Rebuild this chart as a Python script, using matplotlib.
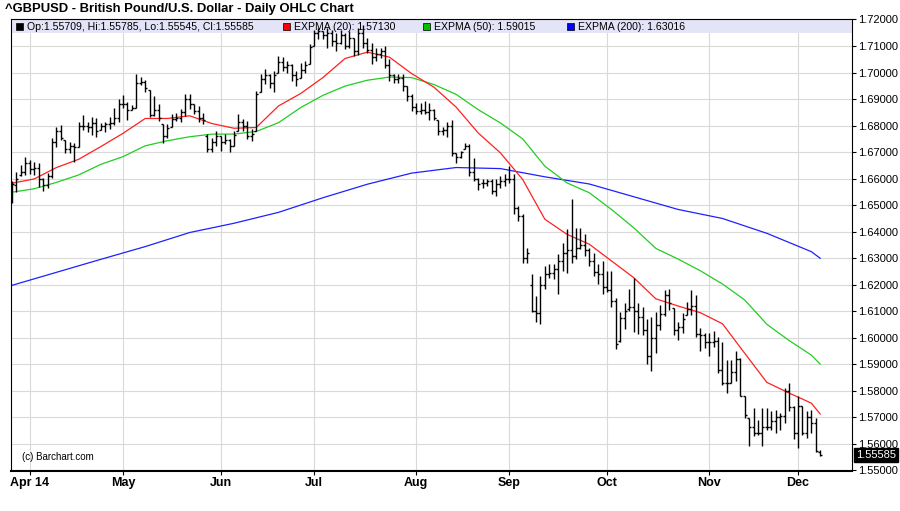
#!/usr/bin/env python3
"""Recreate the Barchart daily OHLC chart of GBPUSD with EXPMA overlays."""

import matplotlib

matplotlib.use("Agg")
import matplotlib.pyplot as plt
import pandas as pd
from matplotlib import font_manager
from matplotlib.collections import LineCollection
from matplotlib.patches import Rectangle
from matplotlib.transforms import blended_transform_factory

TITLE = "^GBPUSD - British Pound/U.S. Dollar - Daily OHLC Chart"

# trading days on the chart (Good Friday is missing in the source)
first_day = "2014-03-26"
last_day = "2014-12-08"
skipped_days = ["2014-04-18"]

opens = [
    1.6520, 1.6575, 1.6615, 1.6625, 1.6660, 1.6635, 1.6640, 1.6600, 1.6575, 1.6610,
    1.6740, 1.6780, 1.6746, 1.6710, 1.6725, 1.6721, 1.6800, 1.6800, 1.6795, 1.6810,
    1.6785, 1.6800, 1.6805, 1.6810, 1.6830, 1.6880, 1.6880, 1.6860, 1.6865, 1.6960,
    1.6965, 1.6934, 1.6840, 1.6860, 1.6806, 1.6760, 1.6793, 1.6825, 1.6830, 1.6850,
    1.6900, 1.6880, 1.6855, 1.6830, 1.6760, 1.6710, 1.6740, 1.6760, 1.6740, 1.6745,
    1.6725, 1.6780, 1.6815, 1.6800, 1.6760, 1.6780, 1.6925, 1.6975, 1.6990, 1.6960,
    1.7000, 1.7040, 1.7020, 1.7030, 1.6990, 1.6981, 1.7010, 1.7031, 1.7100, 1.7150,
    1.7155, 1.7140, 1.7150, 1.7120, 1.7110, 1.7140, 1.7100, 1.7130, 1.7080, 1.7150,
    1.7110, 1.7085, 1.7060, 1.7070, 1.7080, 1.7030, 1.6990, 1.6975, 1.6980, 1.6949,
    1.6910, 1.6870, 1.6855, 1.6860, 1.6850, 1.6860, 1.6820, 1.6780, 1.6785, 1.6800,
    1.6695, 1.6680, 1.6710, 1.6725, 1.6625, 1.6600, 1.6585, 1.6585, 1.6590, 1.6555,
    1.6580, 1.6590, 1.6600, 1.6600, 1.6490, 1.6460, 1.6300, 1.6200, 1.6100, 1.6095,
    1.6200, 1.6240, 1.6245, 1.6260, 1.6290, 1.6320, 1.6330, 1.6310, 1.6340, 1.6350,
    1.6330, 1.6290, 1.6250, 1.6240, 1.6190, 1.6180, 1.6140, 1.5990, 1.6075, 1.6110,
    1.6115, 1.6100, 1.6080, 1.6030, 1.5930, 1.6000, 1.6050, 1.6090, 1.6160, 1.6112,
    1.6030, 1.6040, 1.6086, 1.6110, 1.6120, 1.6015, 1.6010, 1.5985, 1.5985, 1.5990,
    1.5880, 1.5830, 1.5830, 1.5870, 1.5920, 1.5779, 1.5698, 1.5665, 1.5640, 1.5640,
    1.5665, 1.5665, 1.5685, 1.5700, 1.5705, 1.5800, 1.5740, 1.5640, 1.5742, 1.5640,
    1.5700, 1.5680, 1.55709,
]
highs = [
    1.6590, 1.6627, 1.6650, 1.6680, 1.6670, 1.6664, 1.6658, 1.6602, 1.6620, 1.6752,
    1.6796, 1.6802, 1.6746, 1.6739, 1.6733, 1.6815, 1.6840, 1.6815, 1.6833, 1.6827,
    1.6808, 1.6815, 1.6833, 1.6865, 1.6902, 1.6915, 1.6890, 1.6877, 1.6996, 1.6984,
    1.6971, 1.6934, 1.6912, 1.6881, 1.6806, 1.6806, 1.6843, 1.6849, 1.6862, 1.6918,
    1.6918, 1.6881, 1.6874, 1.6849, 1.6768, 1.6755, 1.6780, 1.6762, 1.6768, 1.6749,
    1.6780, 1.6843, 1.6824, 1.6818, 1.6787, 1.6931, 1.6993, 1.7012, 1.6993, 1.7006,
    1.7062, 1.7058, 1.7044, 1.7031, 1.7006, 1.7037, 1.7043, 1.7106, 1.7162, 1.7169,
    1.7156, 1.7169, 1.7162, 1.7150, 1.7162, 1.7150, 1.7156, 1.7131, 1.7169, 1.7180,
    1.7131, 1.7112, 1.7093, 1.7093, 1.7100, 1.7050, 1.6993, 1.6993, 1.6993, 1.6949,
    1.6918, 1.6887, 1.6887, 1.6893, 1.6884, 1.6864, 1.6820, 1.6794, 1.6813, 1.6823,
    1.6697, 1.6704, 1.6735, 1.6729, 1.6678, 1.6603, 1.6597, 1.6597, 1.6597, 1.6597,
    1.6610, 1.6616, 1.6647, 1.6616, 1.6497, 1.6465, 1.6340, 1.6240, 1.6158, 1.6234,
    1.6271, 1.6277, 1.6277, 1.6315, 1.6359, 1.6409, 1.6524, 1.6415, 1.6415, 1.6390,
    1.6340, 1.6321, 1.6277, 1.6290, 1.6252, 1.6252, 1.6152, 1.6096, 1.6133, 1.6183,
    1.6227, 1.6133, 1.6115, 1.6070, 1.6080, 1.6099, 1.6124, 1.6180, 1.6183, 1.6112,
    1.6061, 1.6093, 1.6137, 1.6180, 1.6162, 1.6036, 1.6018, 1.6018, 1.6024, 1.6005,
    1.5986, 1.5917, 1.5917, 1.5949, 1.5924, 1.5779, 1.5698, 1.5736, 1.5692, 1.5736,
    1.5736, 1.5723, 1.5729, 1.5717, 1.5811, 1.5830, 1.5742, 1.5779, 1.5742, 1.5723,
    1.5729, 1.5698, 1.55785,
]
lows = [
    1.6508, 1.6551, 1.6610, 1.6612, 1.6618, 1.6614, 1.6570, 1.6552, 1.6564, 1.6602,
    1.6721, 1.6746, 1.6695, 1.6695, 1.6664, 1.6721, 1.6783, 1.6777, 1.6764, 1.6758,
    1.6783, 1.6777, 1.6789, 1.6802, 1.6815, 1.6865, 1.6821, 1.6858, 1.6865, 1.6952,
    1.6927, 1.6833, 1.6837, 1.6818, 1.6735, 1.6755, 1.6793, 1.6818, 1.6812, 1.6837,
    1.6862, 1.6843, 1.6812, 1.6806, 1.6699, 1.6699, 1.6724, 1.6705, 1.6730, 1.6699,
    1.6724, 1.6780, 1.6780, 1.6749, 1.6743, 1.6780, 1.6925, 1.6956, 1.6943, 1.6925,
    1.7000, 1.7006, 1.7000, 1.6968, 1.6949, 1.6981, 1.7000, 1.7031, 1.7100, 1.7125,
    1.7125, 1.7093, 1.7100, 1.7081, 1.7106, 1.7087, 1.7093, 1.7062, 1.7068, 1.7093,
    1.7075, 1.7031, 1.7043, 1.7056, 1.7018, 1.6968, 1.6962, 1.6962, 1.6931, 1.6893,
    1.6855, 1.6843, 1.6843, 1.6843, 1.6820, 1.6820, 1.6763, 1.6763, 1.6757, 1.6685,
    1.6660, 1.6678, 1.6710, 1.6610, 1.6591, 1.6559, 1.6566, 1.6572, 1.6541, 1.6534,
    1.6566, 1.6572, 1.6584, 1.6465, 1.6440, 1.6284, 1.6284, 1.6096, 1.6058, 1.6052,
    1.6183, 1.6227, 1.6221, 1.6165, 1.6252, 1.6246, 1.6284, 1.6296, 1.6334, 1.6309,
    1.6271, 1.6234, 1.6202, 1.6165, 1.6171, 1.6115, 1.5958, 1.5985, 1.6033, 1.6102,
    1.6021, 1.6014, 1.6010, 1.5900, 1.5875, 1.5943, 1.6030, 1.6083, 1.6105, 1.6011,
    1.5992, 1.6018, 1.6086, 1.6086, 1.6005, 1.5949, 1.5961, 1.5930, 1.5967, 1.5867,
    1.5823, 1.5792, 1.5828, 1.5836, 1.5779, 1.5698, 1.5591, 1.5629, 1.5635, 1.5591,
    1.5654, 1.5654, 1.5642, 1.5654, 1.5679, 1.5723, 1.5617, 1.5585, 1.5635, 1.5623,
    1.5642, 1.5570, 1.55545,
]
closes = [
    1.6580, 1.6600, 1.6625, 1.6660, 1.6635, 1.6640, 1.6600, 1.6575, 1.6610, 1.6740,
    1.6780, 1.6755, 1.6710, 1.6725, 1.6720, 1.6800, 1.6800, 1.6795, 1.6810, 1.6780,
    1.6800, 1.6805, 1.6810, 1.6830, 1.6880, 1.6880, 1.6860, 1.6865, 1.6960, 1.6965,
    1.6940, 1.6840, 1.6860, 1.6830, 1.6760, 1.6790, 1.6825, 1.6830, 1.6850, 1.6900,
    1.6880, 1.6855, 1.6830, 1.6820, 1.6710, 1.6740, 1.6760, 1.6740, 1.6745, 1.6725,
    1.6765, 1.6815, 1.6800, 1.6760, 1.6770, 1.6920, 1.6975, 1.6990, 1.6960, 1.6990,
    1.7040, 1.7020, 1.7030, 1.6990, 1.6975, 1.7010, 1.7030, 1.7095, 1.7150, 1.7155,
    1.7140, 1.7150, 1.7120, 1.7110, 1.7140, 1.7100, 1.7130, 1.7080, 1.7150, 1.7110,
    1.7085, 1.7060, 1.7070, 1.7080, 1.7030, 1.6990, 1.6975, 1.6980, 1.6950, 1.6910,
    1.6870, 1.6855, 1.6860, 1.6850, 1.6860, 1.6830, 1.6780, 1.6785, 1.6800, 1.6695,
    1.6680, 1.6700, 1.6725, 1.6625, 1.6600, 1.6580, 1.6585, 1.6590, 1.6555, 1.6580,
    1.6590, 1.6600, 1.6600, 1.6490, 1.6460, 1.6300, 1.6320, 1.6100, 1.6095, 1.6200,
    1.6240, 1.6245, 1.6260, 1.6290, 1.6320, 1.6330, 1.6310, 1.6340, 1.6350, 1.6330,
    1.6290, 1.6250, 1.6240, 1.6190, 1.6180, 1.6140, 1.5975, 1.6075, 1.6100, 1.6115,
    1.6100, 1.6080, 1.6030, 1.5930, 1.6000, 1.6050, 1.6090, 1.6160, 1.6130, 1.6030,
    1.6040, 1.6070, 1.6110, 1.6120, 1.6015, 1.6010, 1.5985, 1.5985, 1.5990, 1.5880,
    1.5830, 1.5830, 1.5870, 1.5920, 1.5780, 1.5710, 1.5665, 1.5640, 1.5640, 1.5665,
    1.5665, 1.5685, 1.5700, 1.5705, 1.5800, 1.5740, 1.5640, 1.5745, 1.5640, 1.5700,
    1.5680, 1.5575, 1.55585,
]

# moving averages at every 5th bar
ema_idx = [
    0, 5, 10, 15, 20, 25, 30, 35, 40, 45, 50, 55, 60, 65, 70, 75, 80, 85, 90,
    95, 100, 105, 110, 115, 120, 125, 130, 135, 140, 145, 150, 155, 160, 165,
    170, 175, 180, 182,
]
ema20 = [
    1.6583, 1.6599, 1.6642, 1.6673, 1.6721, 1.6771, 1.6827, 1.6827, 1.6837,
    1.6808, 1.6790, 1.6793, 1.6874, 1.6921, 1.6981, 1.7053, 1.7077, 1.7058,
    1.6996, 1.6945, 1.6870, 1.6772, 1.6697, 1.6597, 1.6447, 1.6390, 1.6353,
    1.6290, 1.6227, 1.6147, 1.6120, 1.6095, 1.6053, 1.5942, 1.5832, 1.5792,
    1.5754, 1.5713,
]
ema50 = [
    1.6549, 1.6562, 1.6586, 1.6614, 1.6654, 1.6683, 1.6724, 1.6743, 1.6758,
    1.6768, 1.6768, 1.6778, 1.6811, 1.6868, 1.6914, 1.6949, 1.6971, 1.6983,
    1.6981, 1.6955, 1.6918, 1.6860, 1.6810, 1.6750, 1.6647, 1.6584, 1.6547,
    1.6484, 1.6415, 1.6337, 1.6297, 1.6253, 1.6203, 1.6143, 1.6051, 1.5990,
    1.5935, 1.5901,
]
ema200_idx = [0, 10, 20, 30, 40, 50, 60, 70, 80, 90, 100, 110, 120, 130, 140,
              150, 160, 170, 180, 182]
ema200 = [
    1.6198, 1.6247, 1.6296, 1.6344, 1.6397, 1.6432, 1.6473, 1.6528, 1.6579,
    1.6621, 1.6642, 1.6638, 1.6607, 1.6580, 1.6532, 1.6484, 1.6450, 1.6394,
    1.6325, 1.6300,
]

legend_labels = [
    "Op:1.55709, Hi:1.55785, Lo:1.55545, Cl:1.55585",
    "EXPMA (20): 1.57130",
    "EXPMA (50): 1.59015",
    "EXPMA (200): 1.63016",
]
legend_colors = ["#000000", "#ff0000", "#00c000", "#0000ff"]
legend_x = [16, 283, 423, 567]

W, H = 900, 511


def pick_font(*names):
    """Return the first installed family from names."""
    available = {f.name for f in font_manager.fontManager.ttflist}
    for name in names:
        if name in available:
            return name
    return "DejaVu Sans"


def fx(x):
    return x / W


def fy(y):
    return 1 - y / H


def trading_days():
    days = pd.bdate_range(first_day, last_day)
    return days[~days.isin(pd.to_datetime(skipped_days))]


def ohlc_segments():
    half = 0.45
    segs = []
    for i, (o, h, l, c) in enumerate(zip(opens, highs, lows, closes)):
        segs.append([(i, l), (i, h)])
        segs.append([(i - half, o), (i, o)])
        segs.append([(i, c), (i + half, c)])
    return segs


def main():
    sans = pick_font("Liberation Sans", "Arial")
    narrow = pick_font("Liberation Sans Narrow", "Liberation Sans")
    plt.rcParams["font.family"] = sans

    fig = plt.figure(figsize=(W / 100, H / 100), dpi=100)
    left, right, top, bottom = 10.7, 851.7, 19.5, 470.5
    ax = fig.add_axes([fx(left), fy(bottom), (right - left) / W, (bottom - top) / H])

    days = trading_days()
    ax.set_xlim(-0.3, 189.1)
    ax.set_ylim(1.55, 1.72)

    # grid
    ax.set_axisbelow(True)
    ax.grid(True, color="#d9d9d9", linewidth=0.8)

    # legend band along the top of the plot
    band_h = 13.5 / (bottom - top)
    ax.add_patch(Rectangle((0, 1 - band_h), 1, band_h, transform=ax.transAxes,
                           facecolor="#e4e4f8", edgecolor="none", zorder=1.5))
    for label, color, x in zip(legend_labels, legend_colors, legend_x):
        ax.add_patch(Rectangle((fx(x), fy(30)), 7 / W, 7 / H, transform=fig.transFigure,
                               facecolor=color, edgecolor="black", linewidth=0.5,
                               zorder=2, clip_on=False))
        ax.text(fx(x + 11), fy(26.5), label, transform=fig.transFigure, fontsize=7.6,
                va="center", ha="left", color="black", zorder=2)

    # moving averages
    ax.plot(ema200_idx, ema200, color="#2020ff", linewidth=0.9, zorder=2.5)
    ax.plot(ema_idx, ema50, color="#22cc22", linewidth=0.9, zorder=2.5)
    ax.plot(ema_idx, ema20, color="#ff2020", linewidth=0.9, zorder=2.5)

    # OHLC bars
    ax.add_collection(LineCollection(ohlc_segments(), colors="black",
                                     linewidths=1.0, zorder=3))

    # x axis: first trading day of each month; the partial starting month gets no tick
    month_first = pd.Series(range(len(days)), index=days).groupby(
        [days.year, days.month]).first()
    xticks = list(month_first.values)[1:]
    xlabels = []
    for n, pos in enumerate(xticks):
        d = days[pos]
        xlabels.append(d.strftime("%b %y") if n == 0 else d.strftime("%b"))
    ax.set_xticks(xticks)
    ax.set_xticklabels(xlabels, fontfamily=narrow, fontweight="bold", fontsize=9)
    ax.tick_params(axis="x", direction="out", length=3, pad=1.5, width=0.8)

    # y axis on the right
    yticks = [1.55 + 0.01 * k for k in range(18)]
    ax.yaxis.tick_right()
    ax.set_yticks(yticks)
    ax.set_yticklabels([f"{v:.5f}" for v in yticks], fontsize=8)
    ax.tick_params(axis="y", direction="out", length=3, pad=1.5, width=0.8)

    for side in ["left", "right", "top"]:
        ax.spines[side].set_color("black")
        ax.spines[side].set_linewidth(0.8)
    ax.spines["bottom"].set_linewidth(1.5)

    # last price box
    trans = blended_transform_factory(ax.transAxes, ax.transData)
    ax.text(1.005, closes[-1], f"{closes[-1]:.5f}", transform=trans, fontsize=8,
            color="white", va="center", ha="left", clip_on=False, zorder=5,
            bbox=dict(facecolor="black", edgecolor="black", pad=1.2))

    ax.text(fx(22), fy(457), "(c) Barchart.com", transform=fig.transFigure,
            fontsize=7, va="center", ha="left")

    fig.text(fx(5), fy(9), TITLE, fontsize=9.4, fontweight="bold", va="center", ha="left")

    fig.savefig("out.png", dpi=100)
    plt.close(fig)


if __name__ == "__main__":
    main()
